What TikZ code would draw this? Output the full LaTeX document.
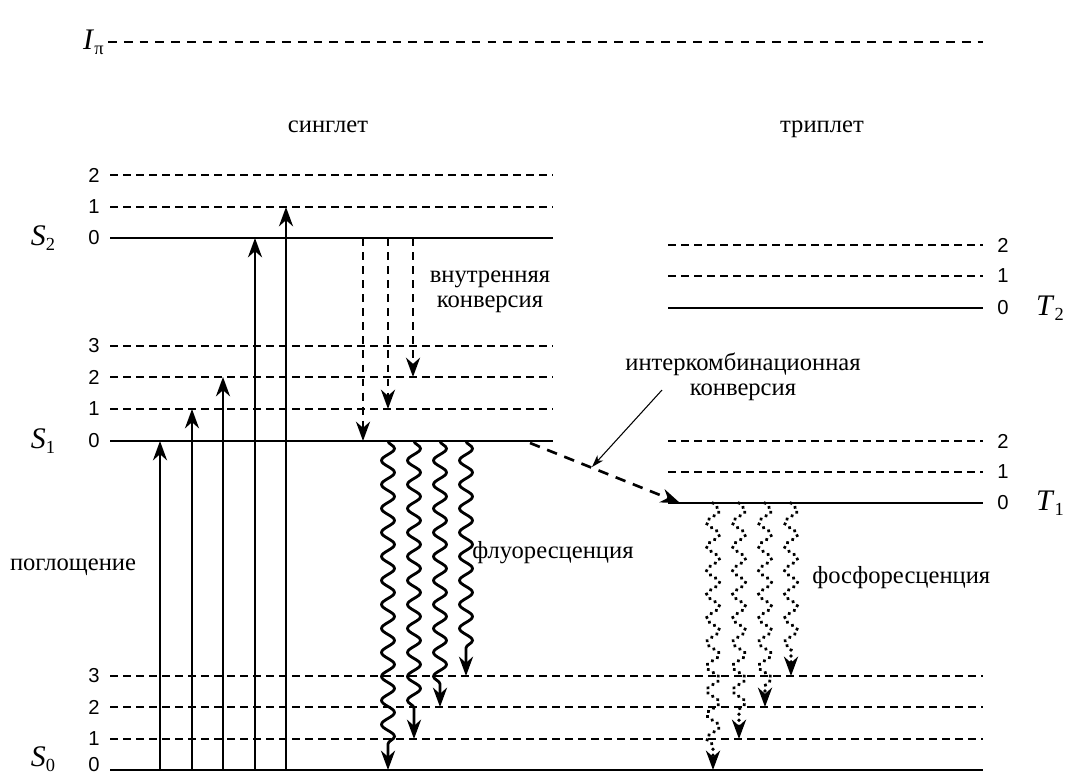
\documentclass[tikz,border=0pt]{standalone}
\usepackage{fontspec}
\setmainfont{Liberation Serif}
\newfontfamily\numfont{Liberation Sans}
\usetikzlibrary{arrows.meta,decorations.pathmorphing}

\newcommand\lvl[2]{\textit{#1}\raisebox{-0.35ex}{\fontsize{10.5}{10.5}\selectfont #2}}

\tikzset{
  level/.style={line width=1.5pt},
  sublevel/.style={line width=1.5pt, dash pattern=on 4.6pt off 2.8pt},
  ionlevel/.style={line width=1.5pt, dash pattern=on 5pt off 4pt},
  vnum/.style={font=\numfont\fontsize{11.5}{12}\selectfont, inner sep=0pt},
  statelbl/.style={font=\fontsize{17}{18}\selectfont, inner sep=0pt},
  txt/.style={font=\fontsize{14}{14.5}\selectfont, align=center, inner sep=0pt},
  absorb/.style={-{Stealth[length=11pt,width=8pt,inset=3.5pt]}, line width=1.3pt},
  icarrow/.style={absorb, dash pattern=on 4.5pt off 3.5pt},
  iscarrow/.style={absorb, line width=1.5pt, dash pattern=on 6pt off 4.5pt},
  pointer/.style={-{Stealth[length=7pt,width=4.5pt,inset=2pt]}, line width=0.6pt},
  fluor/.style={absorb, line width=1.6pt, decorate,
    decoration={snake, amplitude=0.13cm, segment length=0.48cm, post length=0.42cm}},
  phos/.style={fluor, line width=2.1pt, line cap=round, dash pattern=on 0.1pt off 3.3pt}
}

\begin{document}
\begin{tikzpicture}[x=0.02cm,y=-0.02cm]
\useasboundingbox (0,0) rectangle (1065,775);

\draw[ionlevel] (108,42) coordinate (ion) -- (983,42);
\node[statelbl, anchor=east] (ionlbl) at (104,42) {\lvl{I}{π}};

\node[txt, anchor=base] (sing) at (328,132) {синглет};
\node[txt, anchor=base] (trip) at (822,132) {триплет};

\foreach \nm/\y/\v in {s2v2/175/2, s2v1/207/1, s1v3/346/3, s1v2/377/2, s1v1/409/1}{
  \draw[sublevel] (110,\y) coordinate (\nm) -- (553,\y);
  \node[vnum, anchor=east] (n\nm) at (100,\y) {\v};
}
\foreach \nm/\y in {s2v0/238, s1v0/441}{
  \draw[level] (110,\y) coordinate (\nm) -- (553,\y);
  \node[vnum, anchor=east] (n\nm) at (100,\y) {0};
}
\foreach \nm/\y/\v in {s0v3/676/3, s0v2/707/2, s0v1/739/1}{
  \draw[sublevel] (110,\y) coordinate (\nm) -- (983,\y);
  \node[vnum, anchor=east] (n\nm) at (100,\y) {\v};
}
\draw[level] (110,770) coordinate (s0v0) -- (983,770);
\node[vnum, anchor=east] (ns0v0) at (100,765) {0};

\foreach \nm/\y/\v in {t2v2/245/2, t2v1/276/1, t1v2/441/2, t1v1/472/1}{
  \draw[sublevel] (668,\y) coordinate (\nm) -- (983,\y);
  \node[vnum, anchor=west] (n\nm) at (997,\y) {\v};
}
\foreach \nm/\y in {t2v0/308, t1v0/503}{
  \draw[level] (668,\y) coordinate (\nm) -- (983,\y);
  \node[vnum, anchor=west] (n\nm) at (997,\y) {0};
}

\node[statelbl] (S2) at (43,238) {\lvl{S}{2}};
\node[statelbl] (S1) at (43,441) {\lvl{S}{1}};
\node[statelbl] (S0) at (43,759) {\lvl{S}{0}};
\node[statelbl] (T2) at (1050,308) {\lvl{T}{2}};
\node[statelbl] (T1) at (1050,503) {\lvl{T}{1}};

\foreach \x/\to in {160/s1v0, 192/s1v1, 223/s1v2, 255/s2v0, 286/s2v1}
  \draw[absorb] (\x,0 |- s0v0) -- (\x,0 |- \to);
\node[txt] (abs) at (73,567) {поглощение};

\foreach \x/\to in {363/s1v0, 388/s1v1, 413/s1v2}
  \draw[icarrow] (\x,0 |- s2v0) -- (\x,0 |- \to);
\node[txt] (ic) at (490,292) {внутренняя\\конверсия};

\foreach \x/\to in {388/s0v0, 414/s0v1, 440/s0v2, 466/s0v3}
  \draw[fluor] (\x,0 |- s1v0) -- (\x,0 |- \to);
\node[txt, anchor=west] (fl) at (472,553) {флуоресценция};

\foreach \x/\to in {713/s0v0, 739/s0v1, 765/s0v2, 791/s0v3}
  \draw[phos] (\x,0 |- t1v0) -- (\x,0 |- \to);
\node[txt, anchor=west] (ph) at (812,578) {фосфоресценция};

\coordinate (iscA) at (530,443);
\coordinate (iscB) at (680,503);
\draw[iscarrow] (iscA) -- (iscB);
\node[txt] (isc) at (743,377) {интеркомбинационная\\конверсия};
\coordinate (ptrA) at (662,390);
\coordinate (ptrB) at (592,467);
\draw[pointer] (ptrA) -- (ptrB);
\end{tikzpicture}
\end{document}
